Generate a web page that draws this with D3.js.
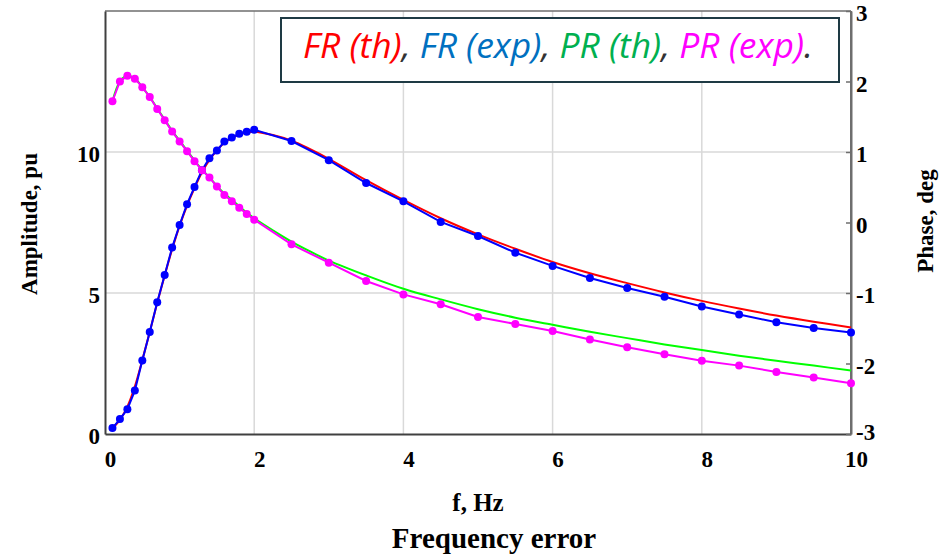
<!DOCTYPE html>
<html>
<head>
<meta charset="utf-8">
<script src="https://cdn.jsdelivr.net/npm/d3@7"></script>
<style>
  html, body { margin: 0; padding: 0; background: #ffffff; }
  svg { display: block; }
</style>
</head>
<body>
<svg id="chart" width="943" height="557"></svg>
<script>
// ---------------- data ----------------
const expX = [0.1,0.2,0.3,0.4,0.5,0.6,0.7,0.8,0.9,1.0,1.1,1.2,1.3,1.4,1.5,1.6,1.7,1.8,1.9,2.0,
              2.5,3.0,3.5,4.0,4.5,5.0,5.5,6.0,6.5,7.0,7.5,8.0,8.5,9.0,9.5,10.0];
const frExp = [0.21,0.53,0.88,1.54,2.61,3.62,4.67,5.64,6.61,7.41,8.15,8.76,9.35,9.78,10.05,10.37,10.51,10.65,10.72,10.79,
               10.39,9.71,8.90,8.25,7.52,7.02,6.43,5.96,5.53,5.18,4.87,4.52,4.24,3.96,3.76,3.60];
const prExp = [1.72,2.00,2.08,2.04,1.92,1.78,1.61,1.45,1.29,1.15,1.01,0.87,0.74,0.64,0.51,0.39,0.30,0.21,0.12,0.04,
               -0.31,-0.57,-0.83,-1.02,-1.16,-1.34,-1.44,-1.54,-1.66,-1.77,-1.87,-1.96,-2.03,-2.12,-2.20,-2.28];

const thX = [0.1,0.2,0.3,0.4,0.5,0.6,0.7,0.8,0.9,1.0,1.1,1.2,1.3,1.4,1.5,1.6,1.7,1.8,1.9,2.0,
             2.25,2.5,2.75,3.0,3.5,4.0,4.5,5.0,5.5,6.0,6.5,7.0,7.5,8.0,8.5,9.0,9.5,10.0];
const frTh = [0.20,0.50,0.97,1.68,2.62,3.62,4.65,5.62,6.55,7.38,8.10,8.72,9.28,9.72,10.06,10.33,10.50,10.62,10.69,10.72,
              10.60,10.40,10.10,9.76,9.00,8.30,7.65,7.08,6.57,6.10,5.70,5.35,5.02,4.72,4.45,4.20,3.98,3.78];
const prTh = [1.72,2.00,2.08,2.04,1.92,1.78,1.62,1.46,1.30,1.16,1.02,0.88,0.75,0.64,0.52,0.41,0.32,0.23,0.14,0.06,
              -0.11,-0.27,-0.41,-0.54,-0.75,-0.94,-1.09,-1.23,-1.35,-1.45,-1.55,-1.64,-1.73,-1.81,-1.89,-1.96,-2.03,-2.10];

const xTicks = [0,2,4,6,8,10];
const yLeftTicks = [0,5,10];
const yRightTicks = [-3,-2,-1,0,1,2,3];
const xGrid = [2,4,6,8];
const yGrid = [5,10];

const legendParts = [
  {text: "FR (th)", color: "#ff0000"},
  {text: ", ", color: "#333333"},
  {text: "FR (exp)", color: "#0070c0"},
  {text: ", ", color: "#333333"},
  {text: "PR (th)", color: "#00b050"},
  {text: ", ", color: "#333333"},
  {text: "PR (exp)", color: "#ff00ff"},
  {text: ".", color: "#333333"}
];

// ---------------- layout ----------------
const L = 105, R = 851, T = 11, B = 434;
const svg = d3.select("#chart");

const x = d3.scaleLinear().domain([0,10]).range([L, R]);
const yL = d3.scaleLinear().domain([0,15]).range([B, T]);
const yR = d3.scaleLinear().domain([-3,3]).range([B, T]);

// grid
svg.append("g").selectAll("line").data(xGrid).join("line")
  .attr("x1", d => x(d)).attr("x2", d => x(d)).attr("y1", T).attr("y2", B)
  .attr("stroke", "#d9d9d9").attr("stroke-width", 1.5);
svg.append("g").selectAll("line").data(yGrid).join("line")
  .attr("x1", L).attr("x2", R).attr("y1", d => yL(d)).attr("y2", d => yL(d))
  .attr("stroke", "#d9d9d9").attr("stroke-width", 1.5);

// frame
svg.append("line").attr("x1", L).attr("x2", R).attr("y1", T).attr("y2", T)
  .attr("stroke", "#6e6e6e").attr("stroke-width", 1.5);
svg.append("line").attr("x1", R).attr("x2", R).attr("y1", T).attr("y2", B)
  .attr("stroke", "#6e6e6e").attr("stroke-width", 2);

// axes
const tickFont = "'Liberation Serif', 'Times New Roman', serif";
const gx = svg.append("g").attr("transform", `translate(0,${B})`)
  .call(d3.axisBottom(x).tickValues(xTicks).tickSize(0).tickPadding(0).tickFormat(d3.format("d")));
gx.select(".domain").attr("stroke", "#404040").attr("stroke-width", 2);
gx.selectAll("text").attr("font-family", tickFont).attr("font-weight", "bold")
  .attr("font-size", 23).attr("fill", "#000").attr("dy", null).attr("y", 33).attr("dx", 5);

const gyl = svg.append("g").attr("transform", `translate(${L},0)`)
  .call(d3.axisLeft(yL).tickValues(yLeftTicks).tickSize(0).tickPadding(5).tickFormat(d3.format("d")));
gyl.select(".domain").attr("stroke", "#404040").attr("stroke-width", 2);
gyl.selectAll("text").attr("font-family", tickFont).attr("font-weight", "bold")
  .attr("font-size", 23).attr("fill", "#000").attr("dy", "0.42em");

const gyr = svg.append("g").attr("transform", `translate(${R},0)`)
  .call(d3.axisRight(yR).tickValues(yRightTicks).tickSizeInner(-5).tickSizeOuter(0).tickPadding(6)
        .tickFormat(d => d < 0 ? "-" + Math.abs(d) : String(d)));
gyr.select(".domain").attr("stroke", "#6e6e6e").attr("stroke-width", 2);
gyr.selectAll(".tick line").attr("stroke", "#6e6e6e").attr("stroke-width", 1.5);
gyr.selectAll("text").attr("font-family", tickFont).attr("font-weight", "bold")
  .attr("font-size", 23).attr("fill", "#000").attr("dy", d => d === -3 ? "0.22em" : "0.42em").attr("x", 5);

// axis titles
svg.append("text").attr("transform", "translate(37,224) rotate(-90)")
  .attr("text-anchor", "middle").attr("font-family", tickFont).attr("font-weight", "bold")
  .attr("font-size", 23).text("Amplitude, pu");
svg.append("text").attr("transform", "translate(933,221) rotate(-90)")
  .attr("text-anchor", "middle").attr("font-family", tickFont).attr("font-weight", "bold")
  .attr("font-size", 23).text("Phase, deg");
svg.append("text").attr("x", 478).attr("y", 511)
  .attr("text-anchor", "middle").attr("font-family", tickFont).attr("font-weight", "bold")
  .attr("font-size", 25).text("f, Hz");
svg.append("text").attr("x", 494).attr("y", 548)
  .attr("text-anchor", "middle").attr("font-family", tickFont).attr("font-weight", "bold")
  .attr("font-size", 29).text("Frequency error");

// series
const thFR = thX.map((d,i) => [d, frTh[i]]);
const thPR = thX.map((d,i) => [d, prTh[i]]);
const exFR = expX.map((d,i) => [d, frExp[i]]);
const exPR = expX.map((d,i) => [d, prExp[i]]);

const lineL = d3.line().x(d => x(d[0])).y(d => yL(d[1]));
const lineR = d3.line().x(d => x(d[0])).y(d => yR(d[1]));
const lineLs = d3.line().x(d => x(d[0])).y(d => yL(d[1])).curve(d3.curveCatmullRom);
const lineRs = d3.line().x(d => x(d[0])).y(d => yR(d[1])).curve(d3.curveCatmullRom);

svg.append("path").attr("d", lineLs(thFR)).attr("fill", "none").attr("stroke", "#ff0000").attr("stroke-width", 2);
svg.append("path").attr("d", lineRs(thPR)).attr("fill", "none").attr("stroke", "#00ff00").attr("stroke-width", 2);

svg.append("path").attr("d", lineL(exFR)).attr("fill", "none").attr("stroke", "#0000ff").attr("stroke-width", 2);
svg.append("g").selectAll("circle").data(exFR).join("circle")
  .attr("cx", d => x(d[0])).attr("cy", d => yL(d[1])).attr("r", 4).attr("fill", "#0000ff");

svg.append("path").attr("d", lineR(exPR)).attr("fill", "none").attr("stroke", "#ff00ff").attr("stroke-width", 2);
svg.append("g").selectAll("circle").data(exPR).join("circle")
  .attr("cx", d => x(d[0])).attr("cy", d => yR(d[1])).attr("r", 4).attr("fill", "#ff00ff");

// legend
svg.append("rect").attr("x", 281).attr("y", 18).attr("width", 558).attr("height", 64)
  .attr("fill", "#ffffff").attr("stroke", "#1e3a44").attr("stroke-width", 2);
const lt = svg.append("text").attr("x", 303).attr("y", 58)
  .attr("font-family", "'Open Sans', 'Noto Sans', sans-serif").attr("font-style", "italic")
  .attr("font-size", 28);
lt.selectAll("tspan").data(legendParts).join("tspan")
  .attr("fill", d => d.color).text(d => d.text);
const w = lt.node().getComputedTextLength();
lt.attr("font-size", 28 * 510 / w);
</script>
</body>
</html>
